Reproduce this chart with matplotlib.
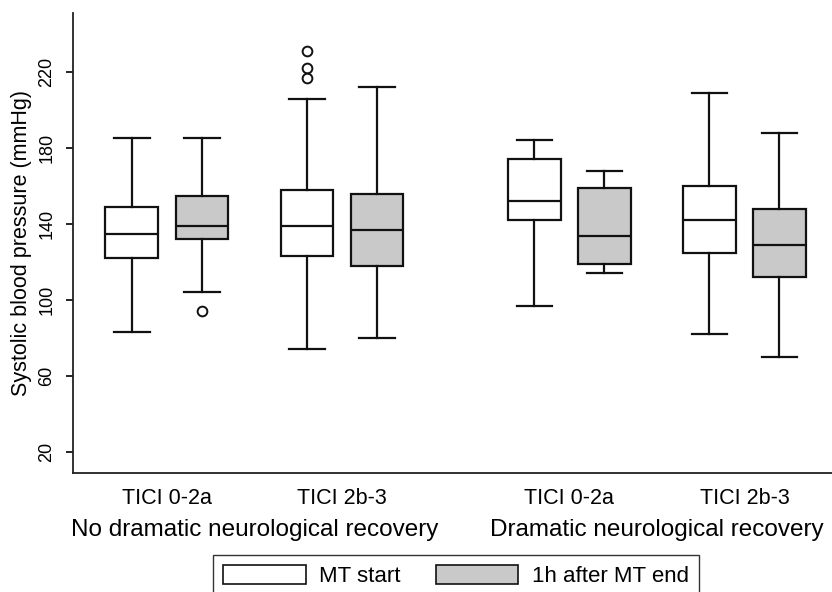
import matplotlib
matplotlib.use("Agg")
import matplotlib.pyplot as plt
from matplotlib.patches import Patch

plt.rcParams['font.family'] = ['Liberation Sans', 'DejaVu Sans']

# === Data ===
groups = ["No dramatic neurological recovery", "Dramatic neurological recovery"]
tici = ["TICI 0-2a", "TICI 2b-3"]
series = ["MT start", "1h after MT end"]

# one entry per box, order: group -> tici -> series
whislo = [83, 104, 74, 80, 97, 114, 82, 70]
q1 = [122, 132, 123, 118, 142, 119, 125, 112]
med = [134.5, 139, 139, 137, 152, 133.5, 142, 129]
q3 = [149, 154.5, 158, 156, 174, 159, 160, 148]
whishi = [185, 185, 206, 212, 184, 168, 209, 188]
fliers = [[], [94], [217, 222, 231], [], [], [], [], []]

yticks = [20, 60, 100, 140, 180, 220]

# === Layout ===
positions = [1, 2, 3.5, 4.5, 6.75, 7.75, 9.25, 10.25]
fills = ["white", "#c9c9c9"]

stats = []
for i in range(len(med)):
    stats.append(dict(whislo=whislo[i], q1=q1[i], med=med[i], q3=q3[i],
                      whishi=whishi[i], fliers=fliers[i]))

fig = plt.figure(figsize=(8.32, 5.92), dpi=100)
ax = fig.add_axes([0.0874, 0.201, 0.9126, 0.777])

lw = 1.6
bp = ax.bxp(stats, positions=positions, widths=0.75, capwidths=0.51,
            patch_artist=True, showfliers=True,
            boxprops=dict(edgecolor="#111111", linewidth=lw),
            medianprops=dict(color="#111111", linewidth=lw),
            whiskerprops=dict(color="#111111", linewidth=lw),
            capprops=dict(color="#111111", linewidth=lw),
            flierprops=dict(marker="o", markersize=7, markerfacecolor="none",
                            markeredgecolor="#111111", markeredgewidth=1.4))
for i, box in enumerate(bp["boxes"]):
    box.set_facecolor(fills[i % 2])

ax.set_xlim(0.157, 11.0)
ax.set_ylim(9, 251)

for s in ["top", "right"]:
    ax.spines[s].set_visible(False)
for s in ["left", "bottom"]:
    ax.spines[s].set_linewidth(1.3)
    ax.spines[s].set_color("#222222")

ax.set_yticks(yticks)
ax.set_yticklabels([str(v) for v in yticks])
ax.tick_params(axis="y", length=5, width=1.2, pad=7.5, labelsize=13)
plt.setp(ax.get_yticklabels(), rotation=90, va="center")

# TICI labels at pair centres
pair_centres = [(positions[2 * k] + positions[2 * k + 1]) / 2 for k in range(4)]
ax.set_xticks(pair_centres)
ax.set_xticklabels(tici * 2)
ax.tick_params(axis="x", length=0, pad=11, labelsize=15.5)

# group labels
trans = ax.get_xaxis_transform()
for g in range(2):
    xc = (pair_centres[2 * g] + pair_centres[2 * g + 1]) / 2
    ax.text(xc, -0.124, groups[g], transform=trans, ha="center", va="center",
            fontsize=17.5)

ax.set_ylabel("Systolic blood pressure (mmHg)", fontsize=15.5)
ax.yaxis.set_label_coords(-0.054, 0.5)

handles = [Patch(facecolor=fills[k], edgecolor="#111111", linewidth=1.2)
           for k in range(2)]
fig.legend(handles, series, loc="upper center", bbox_to_anchor=(0.548, 0.0625),
           ncol=2, fontsize=16, frameon=True, fancybox=False, framealpha=1,
           edgecolor="#333333", handlelength=3.7, handleheight=0.95,
           handletextpad=0.6, columnspacing=1.6, borderpad=0.45,
           borderaxespad=0)

plt.savefig("out.png", dpi=100)
